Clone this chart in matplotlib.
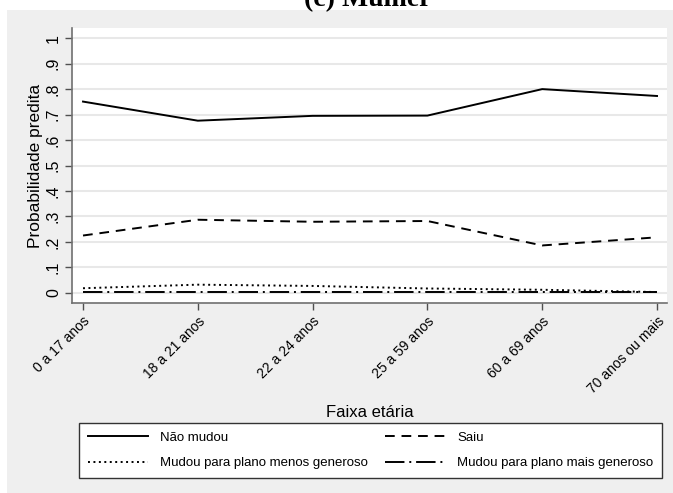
import matplotlib
matplotlib.use("Agg")
import matplotlib.pyplot as plt
from matplotlib.patches import Rectangle

# Age groups and predicted probabilities by outcome
faixas = ["0 a 17 anos", "18 a 21 anos", "22 a 24 anos", "25 a 59 anos",
          "60 a 69 anos", "70 anos ou mais"]
nao_mudou = [0.751, 0.676, 0.695, 0.696, 0.800, 0.773]
saiu = [0.225, 0.287, 0.279, 0.282, 0.186, 0.218]
menos_generoso = [0.018, 0.032, 0.027, 0.017, 0.012, 0.003]
mais_generoso = [0.003, 0.003, 0.003, 0.003, 0.003, 0.003]
yticks = [0, .1, .2, .3, .4, .5, .6, .7, .8, .9, 1]
ytick_labels = ["0", ".1", ".2", ".3", ".4", ".5", ".6", ".7", ".8", ".9", "1"]

W, H = 673, 493
fig = plt.figure(figsize=(W / 100, H / 100), dpi=100, facecolor="white")

# grey graph region below the white title strip
fig.patches.append(Rectangle((7 / W, 0), 1 - 7 / W, (H - 10) / H,
                             transform=fig.transFigure, facecolor="#efefef",
                             edgecolor="none", zorder=-10))
fig.text(368 / W, 1 - 6 / H, "(c) Mulher", ha="center", va="baseline",
         fontsize=20, fontweight="bold", family="Liberation Serif")

ax = fig.add_axes([72 / W, 1 - 303 / H, (667 - 72) / W, (303 - 28) / H])
ax.set_facecolor("white")

x = list(range(len(faixas)))
l1, = ax.plot(x, nao_mudou, color="black", lw=1.4, ls="-", label="Não mudou")
l2, = ax.plot(x, saiu, color="black", lw=1.4, ls=(0, (5, 3.5)), label="Saiu")
l3, = ax.plot(x, menos_generoso, color="black", lw=1.4, ls=(0, (1, 1.8)),
              label="Mudou para plano menos generoso")
l4, = ax.plot(x, mais_generoso, color="black", lw=1.4, ls=(0, (10, 2.5, 1, 2.5)),
              label="Mudou para plano mais generoso")

ax.set_xlim(-0.096, 5.087)
ax.set_ylim(-0.04, 1.04)
ax.set_yticks(yticks)
ax.set_yticklabels(ytick_labels, rotation=90, va="center",
                   fontsize=11.5, family="Liberation Sans")
ax.set_xticks(x)
ax.set_xticklabels(faixas, rotation=45, ha="right", rotation_mode="anchor",
                   fontsize=10, family="Liberation Sans")
ax.grid(axis="y", color="#e8e8e8", lw=1.5)
ax.set_axisbelow(True)
for s in ["top", "right"]:
    ax.spines[s].set_visible(False)
for s in ["left", "bottom"]:
    ax.spines[s].set_color("#707070")
    ax.spines[s].set_linewidth(1.2)
ax.tick_params(axis="both", length=5, width=1, color="#505050", pad=3)

ax.set_ylabel("Probabilidade predita", fontsize=12.5, family="Liberation Sans",
              labelpad=2)
ax.set_xlabel("Faixa etária", fontsize=12, family="Liberation Sans",
              labelpad=6)

# legend entries ordered so the two columns fill row by row
handles = [l1, l3, l2, l4]
leg = fig.legend(handles, [h.get_label() for h in handles], loc="lower left",
                 bbox_to_anchor=(79 / W, 1 - 478 / H, (662 - 79) / W, (478 - 423) / H),
                 mode="expand", ncol=2, frameon=True, fancybox=False,
                 framealpha=1, facecolor="white",
                 edgecolor="#333333", prop={"family": "Liberation Sans", "size": 9.5},
                 handlelength=4.6, handletextpad=0.9, borderaxespad=0,
                 borderpad=0.65, columnspacing=2, labelspacing=1.0)
leg.get_frame().set_linewidth(1.0)

fig.savefig("out.png", dpi=100, facecolor=fig.get_facecolor())
